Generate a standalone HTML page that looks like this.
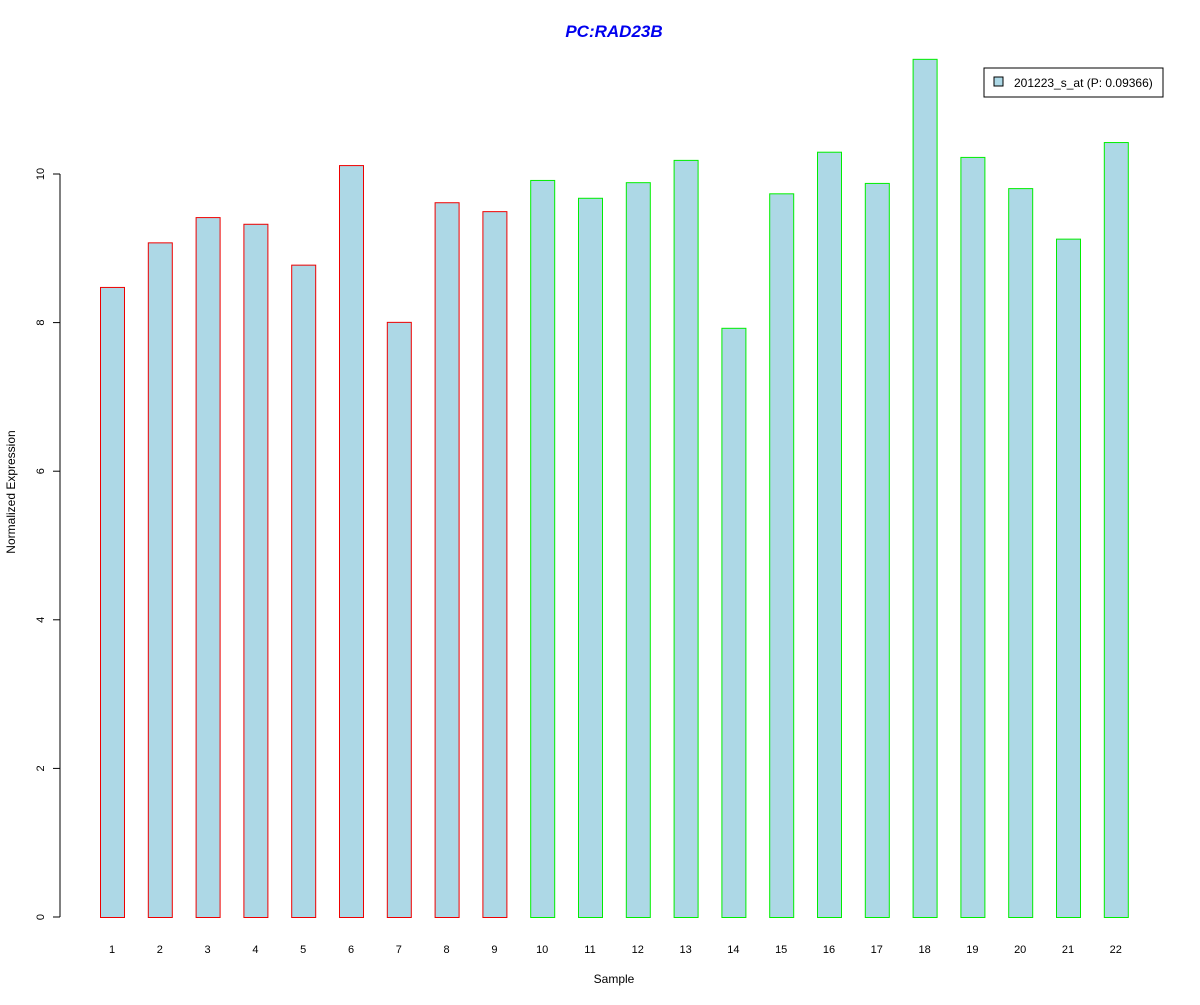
<!DOCTYPE html>
<html><head><meta charset="utf-8"><style>
body{margin:0;background:#fff;}
svg text{font-family:"Liberation Sans",Arial,sans-serif;}
</style></head><body>
<svg id="chart" width="1200" height="1000" xmlns="http://www.w3.org/2000/svg">
<rect width="1200" height="1000" fill="#fff"/>
<text x="614" y="37" text-anchor="middle" font-size="17" font-weight="bold" font-style="italic" fill="#0000ee">PC:RAD23B</text>
<text x="614" y="983" text-anchor="middle" font-size="12">Sample</text>
<text transform="translate(15,492) rotate(-90)" text-anchor="middle" font-size="12">Normalized Expression</text>
<g>
<rect x="984" y="68" width="179" height="29" fill="#fff" stroke="#000"/>
<rect x="994" y="77" width="9" height="9" fill="#add8e6" stroke="#000"/>
<text x="1014" y="87" font-size="12">201223_s_at (P: 0.09366)</text>
</g>
<g id="axis"></g>
<g id="bars"></g>
<g id="xlabels"></g>
</svg>
<script>
const categories = ["1","2","3","4","5","6","7","8","9","10","11","12","13","14","15","16","17","18","19","20","21","22"];
const values = [8.48,9.08,9.42,9.33,8.78,10.12,8.01,9.62,9.50,9.92,9.68,9.89,10.19,7.93,9.74,10.30,9.88,11.55,10.23,9.81,9.13,10.43];
const groups = ["a","a","a","a","a","a","a","a","a","b","b","b","b","b","b","b","b","b","b","b","b","b"];
const yTicks = [0,2,4,6,8,10];
const NS="http://www.w3.org/2000/svg";
function yScale(v){return 917 - v*74.3;}
function xScale(i){return 100 + i*47.8;}
function mk(tag,attrs,parent){const e=document.createElementNS(NS,tag);for(const k in attrs)e.setAttribute(k,attrs[k]);parent.appendChild(e);return e;}
const axis=document.getElementById('axis');
const yl=mk('line',{x1:60,x2:60,y1:yScale(yTicks[0]),y2:yScale(yTicks[yTicks.length-1]),stroke:'#000'},axis);


yTicks.forEach(t=>{
  const y=yScale(t);
  const tk=mk('line',{x1:53,x2:60,y1:y,y2:y,stroke:'#000'},axis);
  
  
  const tx=mk('text',{transform:`translate(44,${y}) rotate(-90)`,'text-anchor':'middle','font-size':11},axis);
  tx.textContent=t;
  
  
});
const bars=document.getElementById('bars');
const xl=document.getElementById('xlabels');
values.forEach((v,i)=>{
  const x=xScale(i);
  const r=mk('rect',{x:x+0.5,y:yScale(v)+0.5,width:24,height:yScale(0)-yScale(v),fill:'#add8e6',stroke:groups[i]==='a'?'#ee0000':'#00ee00'},bars);
  
  
  const t=mk('text',{x:x+12,y:953,'text-anchor':'middle','font-size':11},xl);
  t.textContent=categories[i];
  
  
});
</script>
</body></html>
